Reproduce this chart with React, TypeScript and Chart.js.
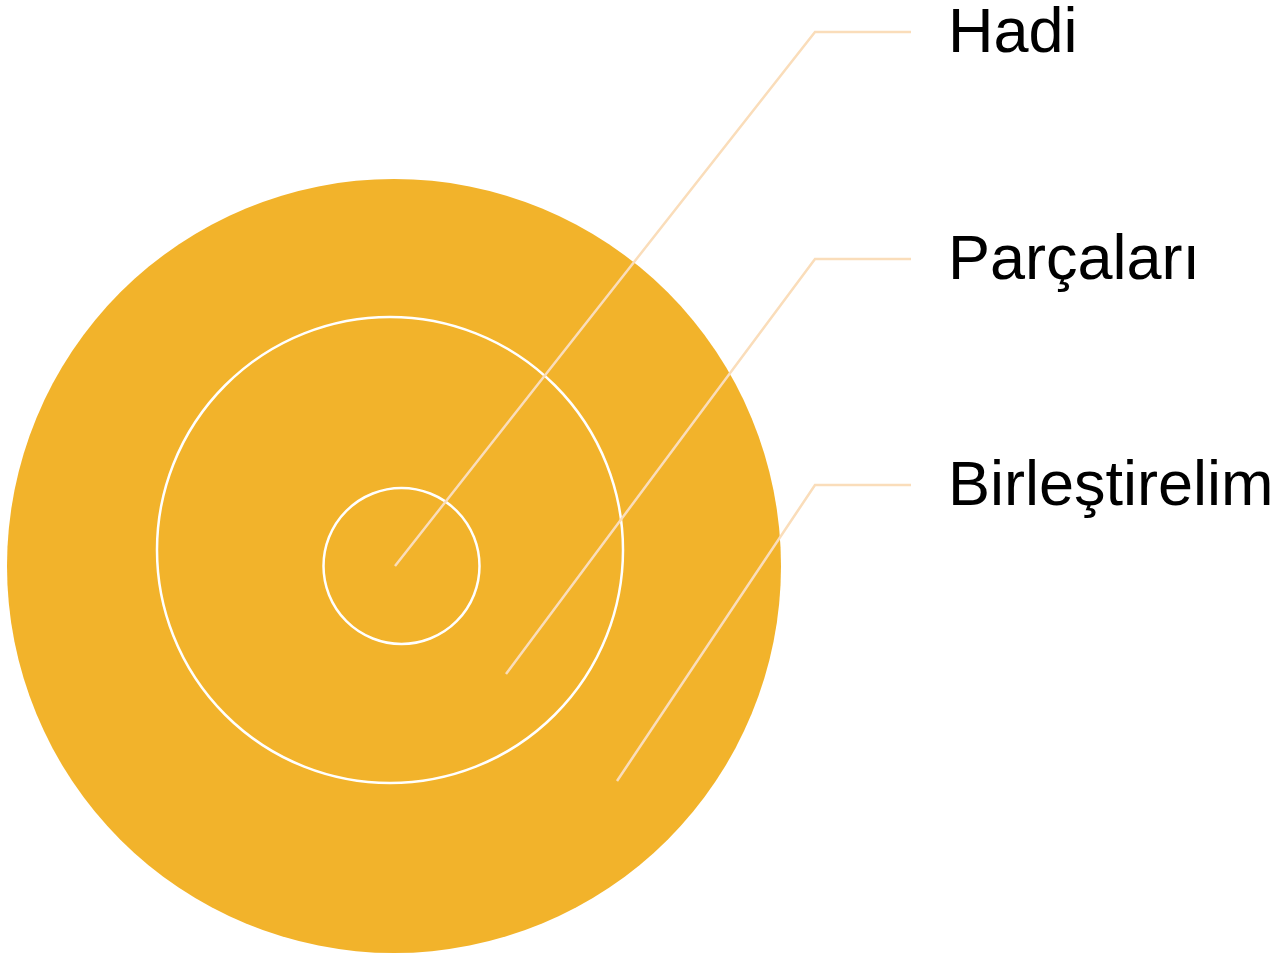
import React, { useEffect, useRef } from "react";
import { Chart, registerables } from "chart.js";

Chart.register(...registerables);

// Concentric circles (center x, center y, radius) in page units
const circleX = [394, 390, 401.5];
const circleY = [566, 550, 566];
const circleR = [387, 233, 78];
const circleFill = ["#F2B32B", "#F2B32B", "#F2B32B"];
const circleBorder = [0, 2.5, 2.5];

// Leader lines
const labels = ["Hadi", "Parçaları", "Birleştirelim"];
const startX = [395, 506, 617];
const startY = [566, 674, 781];
const elbowX = [815, 815, 815];
const elbowY = [32, 259, 485];
const endX = [911, 911, 911];

const W = 1285;
const H = 955;
const FONT_SIZE = 63;

const labelPlugin = {
  id: "leaderLabels",
  afterDatasetsDraw(chart: any) {
    const ctx = chart.ctx;
    ctx.save();
    ctx.fillStyle = "#000000";
    ctx.font = `${FONT_SIZE}px "Liberation Sans", Arial, sans-serif`;
    ctx.textAlign = "left";
    ctx.textBaseline = "alphabetic";
    labels.forEach((label, i) => {
      const meta = chart.getDatasetMeta(i + 1);
      const pts = meta.data;
      const last = pts[pts.length - 1];
      ctx.fillText(label, last.x + 37, last.y + FONT_SIZE * 0.325);
    });
    ctx.restore();
  },
};

export default function App() {
  const ref = useRef<HTMLCanvasElement>(null);

  useEffect(() => {
    document.body.style.margin = "0";
    const canvas = ref.current!;
    const lineSets = labels.map((label, i) => ({
      type: "line" as const,
      label,
      data: [
        { x: startX[i], y: startY[i] },
        { x: elbowX[i], y: elbowY[i] },
        { x: endX[i], y: elbowY[i] },
      ],
      borderColor: "#FADDBA",
      borderWidth: 2.5,
      pointRadius: 0,
      tension: 0,
      fill: false,
      clip: false as any,
      order: 0,
    }));
    const chart = new Chart(canvas, {
      type: "bubble",
      data: {
        datasets: [
          {
            type: "bubble",
            label: "circles",
            data: circleX.map((x, i) => ({ x, y: circleY[i], r: circleR[i] })),
            backgroundColor: circleFill,
            borderColor: "#FFFFFF",
            borderWidth: circleBorder,
            clip: false as any,
            order: 1,
          } as any,
          ...lineSets,
        ],
      },
      options: {
        animation: false,
        responsive: false,
        events: [],
        layout: { padding: 0, autoPadding: false } as any,
        plugins: {
          legend: { display: false },
          tooltip: { enabled: false },
        },
        scales: {
          x: { type: "linear", min: 0, max: W, display: false },
          y: { type: "linear", min: 0, max: H, reverse: true, display: false },
        },
      },
      plugins: [labelPlugin],
    });
    return () => chart.destroy();
  }, []);

  return (
    <div style={{ position: "fixed", left: 0, top: 0, width: W, height: H, background: "#fff" }}>
      <canvas ref={ref} width={W} height={H} />
    </div>
  );
}
